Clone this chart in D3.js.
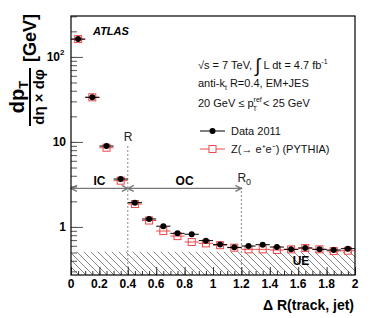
<!DOCTYPE html>
<html>
<head>
<meta charset="utf-8">
<script src="https://cdn.jsdelivr.net/npm/d3@7"></script>
<style>
  body { margin: 0; background: #fff; }
  svg { font-family: 'Liberation Sans', Arial, sans-serif; }
</style>
</head>
<body>
<svg id="chart" width="374" height="318"></svg>
<script>
// track pT density vs distance to jet axis

const binCenters = [0.05, 0.15, 0.25, 0.35, 0.45, 0.55, 0.65, 0.75, 0.85, 0.95,
  1.05, 1.15, 1.25, 1.35, 1.45, 1.55, 1.65, 1.75, 1.85, 1.95]
const binHalfWidth = 0.05
const data2011 = [162, 33.5, 8.95, 3.66, 1.93, 1.24, 1.02, 0.84, 0.82, 0.69,
  0.62, 0.575, 0.596, 0.618, 0.58, 0.545, 0.565, 0.545, 0.535, 0.555]
const pythia = [162, 33.5, 8.55, 3.5, 1.86, 1.19, 0.895, 0.78, 0.665, 0.64,
  0.61, 0.57, 0.545, 0.545, 0.535, 0.545, 0.565, 0.545, 0.52, 0.525]
const ueLevel = 0.51
const xTicks = [0, 0.2, 0.4, 0.6, 0.8, 1, 1.2, 1.4, 1.6, 1.8, 2]
const yTickLabels = [{ v: 1, t: '1' }, { v: 10, t: '10' }, { v: 100, t: '10', sup: '2' }]
const regionEdges = [0, 0.4, 1.2]
const regionNames = ['IC', 'OC']
const arrowLevel = 2.84

const svg = d3.select('#chart')
const pLeft = 71, pRight = 355, pTop = 16, pBottom = 275

const x = d3.scaleLinear().domain([0, 2]).range([pLeft, pRight])
const y = d3.scaleLog().domain([0.272, 303]).range([pBottom, pTop])

// hatch pattern for the UE band
const defs = svg.append('defs')
const pat = defs.append('pattern')
  .attr('id', 'hatch')
  .attr('patternUnits', 'userSpaceOnUse')
  .attr('width', 7)
  .attr('height', 7)
pat.append('path')
  .attr('d', 'M-1,-1 L8,8 M-8,-1 L1,8 M6,-1 L15,8')
  .attr('stroke', '#555')
  .attr('stroke-width', 0.7)
defs.append('clipPath').attr('id', 'plotclip')
  .append('rect')
  .attr('x', pLeft).attr('y', pTop)
  .attr('width', pRight - pLeft).attr('height', pBottom - pTop)

svg.append('rect') // UE band
  .attr('x', x(0))
  .attr('y', y(ueLevel))
  .attr('width', x(2) - x(0))
  .attr('height', pBottom - y(ueLevel))
  .attr('fill', 'url(#hatch)')

// dotted lines at R and R0
const vlines = [{ v: 0.4, top: 146, lab: 'R' }, { v: 1.2, top: 187, lab: 'R', sub: '0' }]
vlines.forEach(function (l) {
  svg.append('line')
    .attr('x1', x(l.v)).attr('x2', x(l.v))
    .attr('y1', l.top).attr('y2', pBottom)
    .attr('stroke', '#888')
    .attr('stroke-width', 1)
    .attr('stroke-dasharray', '2,2')
  const t = svg.append('text')
    .attr('x', x(l.v) - 4)
    .attr('y', l.top - 5)
    .attr('font-size', 12)
    .attr('fill', '#222')
    .text(l.lab)
  if (l.sub) t.append('tspan').attr('font-size', 9).attr('dy', 3).text(l.sub)
})

// IC / OC arrows
const ay = y(arrowLevel)
for (let i = 0; i < regionNames.length; i++) {
  const x0 = x(regionEdges[i]), x1 = x(regionEdges[i + 1])
  svg.append('path')
    .attr('d', `M${x0},${ay}L${x1},${ay}` +
      `M${x0 + 6},${ay - 3}L${x0},${ay}L${x0 + 6},${ay + 3}` +
      `M${x1 - 6},${ay - 3}L${x1},${ay}L${x1 - 6},${ay + 3}`)
    .attr('fill', 'none')
    .attr('stroke', '#777')
    .attr('stroke-width', 1.3)
  svg.append('text')
    .attr('x', (x0 + x1) / 2)
    .attr('y', ay - 3)
    .attr('text-anchor', 'middle')
    .attr('font-size', 12)
    .attr('font-weight', 'bold')
    .text(regionNames[i])
}

svg.append('text')
  .attr('x', x(1.62))
  .attr('y', 265)
  .attr('text-anchor', 'middle')
  .attr('font-size', 12)
  .attr('font-weight', 'bold')
  .text('UE')

// MC points: red error bars and open squares
const plot = svg.append('g').attr('clip-path', 'url(#plotclip)')
plot.selectAll('.mcbar')
  .data(pythia)
  .enter()
  .append('line')
  .attr('x1', (d, i) => x(binCenters[i] - binHalfWidth))
  .attr('x2', (d, i) => x(binCenters[i] + binHalfWidth))
  .attr('y1', d => y(d))
  .attr('y2', d => y(d))
  .attr('stroke', '#f04848')
  .attr('stroke-width', 1)
plot.selectAll('.mcpt')
  .data(pythia)
  .enter()
  .append('rect')
  .attr('x', (d, i) => x(binCenters[i]) - 3.5)
  .attr('y', d => y(d) - 3.5)
  .attr('width', 7)
  .attr('height', 7)
  .attr('fill', 'none')
  .attr('stroke', '#f04848')
  .attr('stroke-width', 1)

// data points
plot.selectAll('.dbar')
  .data(data2011)
  .enter()
  .append('line')
  .attr('x1', (d, i) => x(binCenters[i] - binHalfWidth))
  .attr('x2', (d, i) => x(binCenters[i] + binHalfWidth))
  .attr('y1', d => y(d))
  .attr('y2', d => y(d))
  .attr('stroke', '#000')
  .attr('stroke-width', 1)
plot.selectAll('.dpt')
  .data(data2011)
  .enter()
  .append('circle')
  .attr('cx', (d, i) => x(binCenters[i]))
  .attr('cy', d => y(d))
  .attr('r', 3)
  .attr('fill', '#000')

// axes, ROOT style with inward ticks
const xAxis = d3.axisTop(x).tickValues(d3.range(0, 2.001, 0.05)).tickSize(4).tickFormat('')
svg.append('g')
  .attr('transform', `translate(0,${pBottom})`)
  .call(xAxis)
  .call(g => g.select('.domain').remove())
  .call(g => g.selectAll('line').attr('stroke', '#333'))
svg.append('g')
  .attr('transform', `translate(0,${pBottom})`)
  .call(d3.axisTop(x).tickValues(xTicks).tickSize(8).tickFormat(''))
  .call(g => g.select('.domain').remove())
  .call(g => g.selectAll('line').attr('stroke', '#333'))

const yMinor = []
for (let e = -1; e <= 2; e++) {
  for (let m = 1; m <= 9; m++) {
    const v = m * Math.pow(10, e)
    if (v >= 0.272 && v <= 303) yMinor.push(v)
  }
}
svg.append('g')
  .attr('transform', `translate(${pLeft},0)`)
  .call(d3.axisRight(y).tickValues(yMinor).tickSize(6).tickFormat(''))
  .call(g => g.select('.domain').remove())
  .call(g => g.selectAll('line').attr('stroke', '#555'))
svg.append('g')
  .attr('transform', `translate(${pLeft},0)`)
  .call(d3.axisRight(y).tickValues(yTickLabels.map(d => d.v)).tickSize(12).tickFormat(''))
  .call(g => g.select('.domain').remove())
  .call(g => g.selectAll('line').attr('stroke', '#555'))

// frame
svg.append('rect')
  .attr('x', pLeft).attr('y', pTop)
  .attr('width', pRight - pLeft).attr('height', pBottom - pTop)
  .attr('fill', 'none')
  .attr('stroke', '#000')
  .attr('stroke-width', 1.2)

// tick labels
svg.selectAll('.xlab')
  .data(xTicks)
  .enter()
  .append('text')
  .attr('x', d => x(d))
  .attr('y', 288)
  .attr('text-anchor', 'middle')
  .attr('font-size', 12)
  .attr('font-weight', 'bold')
  .text(d => d)

yTickLabels.forEach(function (d) {
  svg.append('text')
    .attr('x', d.sup ? 60 : 66)
    .attr('y', y(d.v) + 4)
    .attr('text-anchor', 'end')
    .attr('font-size', 12)
    .attr('font-weight', 'bold')
    .text(d.t)
  if (d.sup) {
    svg.append('text')
      .attr('x', 60).attr('y', y(d.v) - 2)
      .attr('font-size', 8).attr('font-weight', 'bold')
      .text(d.sup)
  }
})

// axis titles
svg.append('text')
  .attr('x', 354)
  .attr('y', 310)
  .attr('text-anchor', 'end')
  .attr('font-size', 14)
  .attr('font-weight', 'bold')
  .text('\u0394 R(track, jet)')

const yt = svg.append('g').attr('transform', 'translate(30,97) rotate(-90)')
yt.append('line')
  .attr('x1', -29).attr('x2', 29).attr('y1', 0).attr('y2', 0)
  .attr('stroke', '#000').attr('stroke-width', 2)
const num = yt.append('text')
  .attr('x', 0).attr('y', -6)
  .attr('text-anchor', 'middle')
  .attr('font-size', 20)
  .attr('font-weight', 'bold')
  .text('dp')
num.append('tspan').attr('font-size', 13).attr('dy', 4).text('T')
yt.append('text')
  .attr('x', 0).attr('y', 14)
  .attr('text-anchor', 'middle')
  .attr('font-size', 15)
  .attr('font-weight', 'bold')
  .text('d\u03b7 \u00d7 d\u03c6')
yt.append('text')
  .attr('x', 59).attr('y', 6)
  .attr('text-anchor', 'middle')
  .attr('font-size', 18)
  .attr('font-weight', 'bold')
  .text('[GeV]')

// labels
svg.append('text')
  .attr('x', 93).attr('y', 35)
  .attr('font-size', 11)
  .attr('font-weight', 'bold')
  .attr('font-style', 'italic')
  .text('ATLAS')

const info = svg.append('g').attr('font-size', 11).attr('fill', '#111')
const l1 = info.append('text').attr('x', 198).attr('y', 69)
l1.append('tspan').text('\u221as = 7 TeV,  ')
l1.append('tspan').attr('font-size', 19).attr('dy', 3).text('\u222b')
l1.append('tspan').attr('dy', -3).text(' L dt = 4.7 fb')
l1.append('tspan').attr('font-size', 7).attr('dy', -5).text('-1')
const l2 = info.append('text').attr('x', 198).attr('y', 87)
l2.append('tspan').text('anti-k')
l2.append('tspan').attr('font-size', 7).attr('dy', 3).text('t')
l2.append('tspan').attr('dy', -3).text(' R=0.4, EM+JES')
const l3 = info.append('text').attr('x', 198).attr('y', 107)
l3.append('tspan').text('20 GeV \u2264 p')
l3.append('tspan').attr('font-size', 7).attr('dy', -5).text('ref')
l3.append('tspan').attr('font-size', 7).attr('dx', -9).attr('dy', 9).text('T')
l3.append('tspan').attr('dy', -4).attr('dx', 6).text('< 25 GeV')

// legend
const legend = [
  { label: 'Data 2011', y: 131, color: '#000', marker: 'circle' },
  { label: 'Z(\u2192 e\u207ae\u207b) (PYTHIA)', y: 149, color: '#f04848', marker: 'square' }
]
legend.forEach(function (d) {
  info.append('line')
    .attr('x1', 200).attr('x2', 225).attr('y1', d.y).attr('y2', d.y)
    .attr('stroke', d.color).attr('stroke-width', 1)
  if (d.marker === 'circle') {
    info.append('circle').attr('cx', 212.5).attr('cy', d.y).attr('r', 3).attr('fill', d.color)
  } else {
    info.append('rect').attr('x', 209).attr('y', d.y - 3.5).attr('width', 7).attr('height', 7)
      .attr('fill', '#fff').attr('stroke', d.color)
  }
  info.append('text').attr('x', 231).attr('y', d.y + 4).text(d.label)
})
</script>
</body>
</html>
